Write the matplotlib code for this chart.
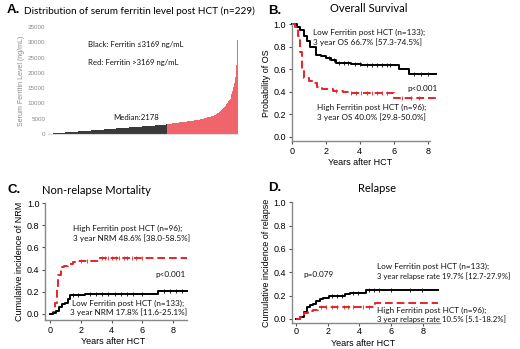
import numpy as np
import matplotlib
matplotlib.use('Agg')
from matplotlib import pyplot as plt

plt.rcParams['font.family'] = ['Liberation Sans', 'DejaVu Sans']

# Panel A: sorted ferritin values (ng/mL)
ferritin_low = [
    60, 80, 100, 120, 140, 160, 190, 210, 230, 250,
    270, 290, 310, 330, 350, 380, 400, 420, 440, 460,
    480, 500, 520, 550, 570, 590, 610, 630, 650, 670,
    690, 720, 740, 760, 780, 800, 820, 840, 860, 890,
    910, 930, 950, 970, 990, 1010, 1030, 1060, 1080, 1100,
    1120, 1140, 1160, 1180, 1200, 1230, 1250, 1270, 1290, 1310,
    1330, 1350, 1370, 1400, 1420, 1440, 1460, 1480, 1500, 1520,
    1540, 1570, 1590, 1610, 1630, 1650, 1670, 1690, 1710, 1740,
    1760, 1780, 1800, 1820, 1840, 1860, 1880, 1910, 1930, 1950,
    1970, 1990, 2010, 2030, 2050, 2080, 2100, 2120, 2140, 2160,
    2180, 2200, 2220, 2250, 2270, 2290, 2310, 2330, 2350, 2370,
    2390, 2420, 2440, 2460, 2480, 2500, 2520, 2540, 2560, 2590,
    2610, 2630, 2650, 2670, 2690, 2710, 2730, 2760, 2780, 2800,
    2820, 2840, 2860, 2880, 2900, 2930, 2950, 2970, 2990, 3010,
    3040, 3080, 3120]
ferritin_high = [
    3200, 3240, 3280, 3310, 3350, 3390, 3430, 3460, 3500, 3540,
    3580, 3620, 3650, 3690, 3730, 3770, 3800, 3840, 3880, 3920,
    3950, 3990, 4030, 4070, 4100, 4140, 4180, 4220, 4260, 4290,
    4330, 4370, 4410, 4440, 4480, 4520, 4560, 4600, 4640, 4680,
    4750, 4820, 4900, 4980, 5050, 5130, 5200, 5280, 5360, 5440,
    5520, 5600, 5680, 5760, 5850, 5940, 6030, 6120, 6210, 6300,
    6500, 6750, 7000, 7250, 7500, 7750, 8000, 8300, 8600, 8900,
    9200, 9500, 9900, 10300, 10700, 11100, 11600, 12300,
    13200, 14200, 15400, 16600, 18500, 20000, 22500, 30800]

# Panel B: overall survival (step times, values)
os_low_t = [0, 0.3, 0.5, 0.7, 0.9, 1.1, 1.4, 1.7, 2.0, 2.3, 2.6, 3.5, 4.1, 6.0, 6.3, 6.9, 8.5]
os_low_s = [1.0, 0.98, 0.95, 0.9, 0.85, 0.8, 0.73, 0.72, 0.70, 0.68, 0.66, 0.65, 0.64, 0.64, 0.60, 0.56, 0.56]
os_low_cens = [2.2, 2.5, 2.8, 3.1, 3.3, 3.7, 4.0, 4.4, 4.7, 5.0, 5.3, 5.6, 5.8, 7.2, 7.6, 8.0]
os_high_t = [0, 0.2, 0.35, 0.5, 0.6, 0.75, 1.0, 1.3, 1.5, 1.8, 2.4, 3.0, 3.3, 6.0, 8.5]
os_high_s = [1.0, 0.98, 0.9, 0.75, 0.6, 0.52, 0.50, 0.48, 0.44, 0.42, 0.41, 0.40, 0.39, 0.34, 0.34]
os_high_cens = [2.6, 3.5, 3.8, 4.1, 4.4, 4.7, 5.0, 5.3, 5.6, 6.5, 7.0, 7.5]

# Panel C: non-relapse mortality
nrm_high_t = [0, 0.2, 0.3, 0.45, 0.55, 0.7, 0.9, 1.2, 1.5, 1.7, 3.2, 8.9]
nrm_high_s = [0, 0.02, 0.1, 0.25, 0.35, 0.42, 0.43, 0.45, 0.47, 0.48, 0.50, 0.50]
nrm_high_cens = [2.0, 2.4, 3.4, 3.6, 3.8, 4.0, 4.3, 4.5, 4.8, 5.0, 5.3, 5.6, 6.0]
nrm_low_t = [0, 0.2, 0.4, 0.6, 0.8, 1.0, 1.2, 1.3, 2.3, 7.0, 8.9]
nrm_low_s = [0, 0.01, 0.03, 0.06, 0.09, 0.10, 0.13, 0.17, 0.18, 0.21, 0.21]
nrm_low_cens = [1.5, 1.8, 2.6, 3.0, 3.4, 3.8, 4.2, 4.6, 5.0, 5.4, 6.0, 7.4, 7.8, 8.2, 8.6]

# Panel D: relapse
rel_low_t = [0, 0.3, 0.5, 0.7, 0.9, 1.1, 1.3, 1.5, 1.7, 2.1, 3.1, 3.4, 4.4, 8.9]
rel_low_s = [0, 0.02, 0.06, 0.10, 0.12, 0.13, 0.15, 0.17, 0.18, 0.20, 0.21, 0.22, 0.25, 0.25]
rel_low_cens = [2.3, 2.6, 2.9, 3.6, 3.9, 4.6, 4.9, 5.2, 6.0, 7.2, 7.9]
rel_high_t = [0, 0.3, 0.5, 0.8, 1.1, 1.4, 5.0, 8.9]
rel_high_s = [0, 0.02, 0.05, 0.07, 0.08, 0.10, 0.14, 0.14]
rel_high_cens = [1.6, 1.9, 2.3, 2.6, 3.0, 3.3, 3.6, 4.2, 4.6]

RED = '#e8222a'
W, H = 520, 349

fig = plt.figure(figsize=(5.2, 3.49), dpi=100)


def px_axes(left, top, right, bottom):
    return fig.add_axes([left / W, 1 - bottom / H, (right - left) / W, (bottom - top) / H])


def fig_text(x, y, s, **kw):
    fig.text(x / W, 1 - y / H, s, **kw)


def step_curve(ax, t, s, cens, color, ls):
    ax.step(t, s, where='post', color=color, lw=1.4, ls=ls, clip_on=False,
            dashes=(4, 2) if ls == '--' else (None, None))
    idx = np.searchsorted(t, cens, side='right') - 1
    ax.plot(cens, np.array(s)[idx], ls='none', marker='|', ms=3, mew=0.6,
            color=color, clip_on=False)


def km_style(ax, xlim, ylim, xbound, ylabel):
    ax.set_xlim(*xlim)
    ax.set_ylim(*ylim)
    ax.set_xticks([0, 2, 4, 6, 8])
    ax.set_yticks([0, 0.2, 0.4, 0.6, 0.8, 1.0])
    ax.set_yticklabels(['0.0', '0.2', '0.4', '0.6', '0.8', '1.0'])
    for sp in ['top', 'right']:
        ax.spines[sp].set_visible(False)
    ax.spines['bottom'].set_bounds(*xbound)
    ax.spines['left'].set_bounds(ylim[0], 1.0)
    for sp in ['left', 'bottom']:
        ax.spines[sp].set_color('#888888')
        ax.spines[sp].set_linewidth(1.0)
    ax.tick_params(labelsize=6.5, length=2.5, width=0.8, pad=1.5, color='#555555')
    ax.set_ylabel(ylabel, fontsize=6.5, labelpad=2)
    ax.patch.set_alpha(0)


LATO = ['Lato', 'DejaVu Sans']
anno = dict(fontsize=5.9, family=LATO, color='#111111', va='center')
small = dict(anno, fontsize=5.6)

# ---- Panel A ----
axA = px_axes(48, 27, 238, 134)
vals = ferritin_low + ferritin_high
colors = ['#3a3a3a'] * len(ferritin_low) + ['#f0646c'] * len(ferritin_high)
axA.bar(np.arange(len(vals)), vals, width=1.0, color=colors, linewidth=0)
axA.set_xlim(-0.5, len(vals) - 0.5)
axA.set_ylim(0, 35000)
axA.set_yticks(range(0, 35001, 5000))
axA.set_xticks([])
for sp in ['top', 'right', 'left']:
    axA.spines[sp].set_visible(False)
axA.spines['bottom'].set_color('#dddddd')
axA.tick_params(axis='y', labelsize=4.5, length=0, labelcolor='#888888', pad=2)
axA.set_ylabel('Serum Ferritin Level (ng/mL)', fontsize=5, color='#888888', labelpad=2)
fig_text(7, 10, 'A.', fontsize=9.5, fontweight='bold', va='center')
fig_text(24, 11, 'Distribution of serum ferritin level post HCT (n=229)', va='center',
         fontsize=7.2, family=LATO)
fig_text(88, 45, 'Black: Ferritin \u22643169 ng/mL', **small)
fig_text(88, 62, 'Red: Ferritin >3169 ng/mL', **small)
fig_text(113, 117, 'Median:2178', **small)

# ---- Panel B ----
axB = px_axes(291.7, 24.3, 437.9, 141.2)
step_curve(axB, os_low_t, os_low_s, os_low_cens, 'black', '-')
step_curve(axB, os_high_t, os_high_s, os_high_cens, RED, '--')
km_style(axB, (0, 8.6), (-0.04, 1.0), (0, 8.15), 'Probability of OS')
fig_text(360, 163, 'Years after HCT', fontsize=6.5, ha='center', va='center')
fig_text(268, 11, 'B.', fontsize=9.5, fontweight='bold', va='center')
fig_text(369, 9, 'Overall Survival', fontsize=8, ha='center', va='center', family=LATO)
fig_text(313, 32, 'Low Ferritin post HCT (n=133);', **anno)
fig_text(313, 42, '3 year OS 66.7% [57.3-74.5%]', **anno)
fig_text(407, 88, 'p<0.001', **anno)
fig_text(317, 107, 'High Ferritin post HCT (n=96);', **anno)
fig_text(317, 117, '3 year OS 40.0% [29.8-50.0%]', **anno)

# ---- Panel C ----
axC = px_axes(45, 203, 187, 320)
step_curve(axC, nrm_high_t, nrm_high_s, nrm_high_cens, RED, '--')
step_curve(axC, nrm_low_t, nrm_low_s, nrm_low_cens, 'black', '-')
km_style(axC, (-0.32, 8.9), (-0.055, 1.0), (-0.32, 8.9), 'Cumulative incidence of NRM')
fig_text(113, 341, 'Years after HCT', fontsize=6.5, ha='center', va='center')
fig_text(8, 190, 'C.', fontsize=9.5, fontweight='bold', va='center')
fig_text(96, 190, 'Non-relapse Mortality', fontsize=8, ha='center', va='center', family=LATO)
fig_text(73, 228, 'High Ferritin post HCT (n=96);', **anno)
fig_text(73, 238, '3 year NRM 48.6% [38.0-58.5%]', **anno)
fig_text(155, 274, 'p<0.001', **anno)
fig_text(72, 303, 'Low Ferritin post HCT (n=133);', **anno)
fig_text(70, 312, '3 year NRM 17.8% [11.6-25.1%]', **anno)

# ---- Panel D ----
axD = px_axes(291.7, 202.3, 440, 323.3)
step_curve(axD, rel_low_t, rel_low_s, rel_low_cens, 'black', '-')
step_curve(axD, rel_high_t, rel_high_s, rel_high_cens, RED, '--')
km_style(axD, (-0.25, 9.05), (-0.037, 1.0), (-0.25, 9.05), 'Cumulative incidence of relapse')
axD.tick_params(axis='x', pad=0.5)
fig_text(363, 343, 'Years after HCT', fontsize=6.5, ha='center', va='center')
fig_text(268, 188, 'D.', fontsize=9.5, fontweight='bold', va='center')
fig_text(377, 188, 'Relapse', fontsize=8, ha='center', va='center', family=LATO)
fig_text(303, 274, 'p=0.079', **anno)
fig_text(377, 266, 'Low Ferritin post HCT (n=133);', **anno)
fig_text(377, 276, '3 year relapse rate 19.7% [12.7-27.9%]', **small)
fig_text(377, 310, 'High Ferritin post HCT (n=96);', **anno)
fig_text(377, 319, '3 year relapse rate 10.5% [5.1-18.2%]', **small)

fig.savefig('out.png', dpi=100)
